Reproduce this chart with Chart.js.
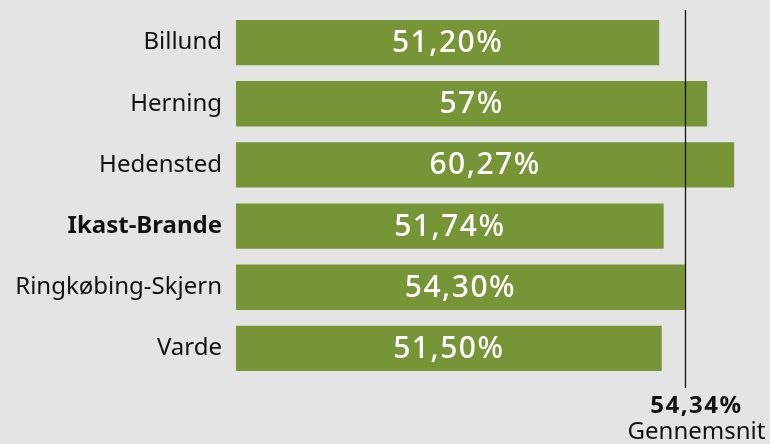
<!DOCTYPE html>
<html>
<head>
<meta charset="utf-8">
<script src="https://cdn.jsdelivr.net/npm/chart.js@4.4.1/dist/chart.umd.min.js"></script>
<style>
  html, body { margin: 0; padding: 0; background: #e4e4e4; }
  #wrap { width: 770px; height: 444px; }
</style>
</head>
<body>
<div id="wrap"><canvas id="chart"></canvas></div>
<script>
const kommuner = ['Billund', 'Herning', 'Hedensted', 'Ikast-Brande', 'Ringkøbing-Skjern', 'Varde'];
const andel = [51.20, 57, 60.27, 51.74, 54.30, 51.50];
const labels = ['51,20%', '57%', '60,27%', '51,74%', '54,30%', '51,50%'];
const gennemsnit = 54.34;
const gennemsnitLabel = '54,34%';

const FONT = '"Noto Sans", sans-serif';

// values inside bars + average line
const overlay = {
  id: 'overlay',
  afterDatasetsDraw(chart) {
    const { ctx, chartArea, scales } = chart;
    const meta = chart.getDatasetMeta(0);
    ctx.save();
    ctx.fillStyle = '#ffffff';
    ctx.font = '500 30px ' + FONT;
    ctx.letterSpacing = '1.5px';
    ctx.textAlign = 'center';
    ctx.textBaseline = 'middle';
    meta.data.forEach((bar, i) => {
      const p = bar.getProps(['x', 'y', 'base']);
      ctx.fillText(labels[i], (p.x + p.base) / 2, p.y + 1);
    });

    const x = Math.round(scales.x.getPixelForValue(gennemsnit)) + 0.5;
    ctx.strokeStyle = '#111';
    ctx.lineWidth = 1.3;
    ctx.beginPath();
    ctx.moveTo(x, chartArea.top - 2);
    ctx.lineTo(x, chartArea.bottom + 9);
    ctx.stroke();

    ctx.fillStyle = '#111';
    ctx.font = 'bold 24px ' + FONT;
    ctx.letterSpacing = '1.5px';
    ctx.fillText(gennemsnitLabel, x + 11, chartArea.bottom + 27);
    ctx.font = '24px ' + FONT;
    ctx.letterSpacing = '0px';
    ctx.fillText('Gennemsnit', x + 11, chartArea.bottom + 53);
    ctx.restore();
  }
};

new Chart(document.getElementById('chart'), {
  type: 'bar',
  data: {
    labels: kommuner,
    datasets: [{
      data: andel,
      backgroundColor: '#779437',
      barPercentage: 0.74,
      categoryPercentage: 1
    }]
  },
  options: {
    indexAxis: 'y',
    responsive: true,
    maintainAspectRatio: false,
    animation: false,
    layout: { padding: { top: 12, bottom: 65, left: 0, right: 0 } },
    plugins: { legend: { display: false }, tooltip: { enabled: false } },
    scales: {
      x: { display: false, min: 0, max: 64.6 },
      y: {
        grid: { display: false, drawTicks: false },
        border: { display: false },
        afterFit(axis) {
          axis.width = 236;
          axis.paddingTop = 0;
          axis.paddingBottom = 0;
        },
        ticks: {
          padding: 14,
          color: '#111',
          font: (c) => ({ family: FONT, size: 24, weight: c.index === 3 ? 'bold' : 'normal' })
        }
      }
    }
  },
  plugins: [overlay]
});
</script>
</body>
</html>
